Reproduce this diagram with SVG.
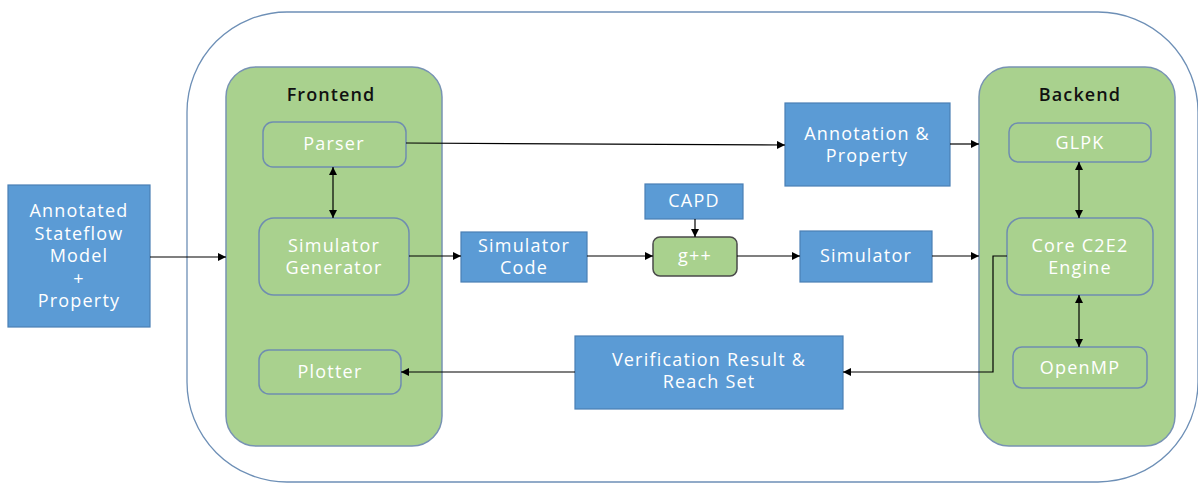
<svg xmlns="http://www.w3.org/2000/svg" width="1198" height="483" viewBox="0 0 1198 483">
  <style>
    .frame { fill: #ffffff; stroke: #6d8fb6; stroke-width: 1.3; }
    .panel { fill: #a9d18e; stroke: #7893b3; stroke-width: 1.5; }
    .inner { fill: #a9d18e; stroke: #6f8db0; stroke-width: 1.5; }
    .tool { fill: #a9d18e; stroke: #4a4a4a; stroke-width: 1.5; }
    .box { fill: #5b9bd5; stroke: #4a7fb5; stroke-width: 1.2; }
    .label { font-family: "Open Sans", "Liberation Sans", sans-serif; font-size: 18px; fill: #ffffff; text-anchor: middle; letter-spacing: 1.2px; }
    .title { font-family: "Open Sans", "Liberation Sans", sans-serif; font-size: 18px; font-weight: 600; fill: #111111; text-anchor: middle; letter-spacing: 1.1px; }
    .wire { fill: none; stroke: #000000; stroke-width: 1.2; }
  </style>
  <defs>
    <marker id="arrow" viewBox="0 0 10 10" refX="10" refY="5" markerWidth="8" markerHeight="8" markerUnits="userSpaceOnUse" orient="auto-start-reverse">
      <path d="M0,0 L10,5 L0,10 z" fill="#000000"/>
    </marker>
  </defs>

  <rect width="1198" height="483" fill="#ffffff"/>

  <!-- C2E2 tool boundary -->
  <rect id="tool-frame" class="frame" x="187" y="12" width="1011" height="470" rx="100" ry="100"/>

  <!-- Frontend panel -->
  <g id="frontend">
    <rect class="panel" x="226" y="67" width="216" height="379" rx="30" ry="30"/>
    <text class="title" x="331" y="101">Frontend</text>
  </g>
  <g id="parser">
    <rect class="inner" x="263" y="122" width="143" height="45" rx="10" ry="10"/>
    <text class="label" x="334" y="150">Parser</text>
  </g>
  <g id="simulator-generator">
    <rect class="inner" x="259" y="218" width="150" height="77" rx="15" ry="15"/>
    <text class="label" x="334" y="252">Simulator</text>
    <text class="label" x="334" y="274">Generator</text>
  </g>
  <g id="plotter">
    <rect class="inner" x="259" y="350" width="142" height="44" rx="10" ry="10"/>
    <text class="label" x="330" y="378">Plotter</text>
  </g>

  <!-- Backend panel -->
  <g id="backend">
    <rect class="panel" x="979" y="67" width="196" height="379" rx="30" ry="30"/>
    <text class="title" x="1080" y="101">Backend</text>
  </g>
  <g id="glpk">
    <rect class="inner" x="1009" y="123" width="142" height="39" rx="9" ry="9"/>
    <text class="label" x="1080" y="149">GLPK</text>
  </g>
  <g id="core-engine">
    <rect class="inner" x="1007" y="218" width="146" height="77" rx="15" ry="15"/>
    <text class="label" x="1080" y="252">Core C2E2</text>
    <text class="label" x="1080" y="274">Engine</text>
  </g>
  <g id="openmp">
    <rect class="inner" x="1013" y="347" width="134" height="41" rx="9" ry="9"/>
    <text class="label" x="1080" y="374">OpenMP</text>
  </g>

  <!-- Artifacts and external tools -->
  <g id="input-model">
    <rect class="box" x="8" y="185" width="142" height="142"/>
    <text class="label" x="79" y="217">Annotated</text>
    <text class="label" x="79" y="239.5">Stateflow</text>
    <text class="label" x="79" y="262">Model</text>
    <text class="label" x="79" y="284.5">+</text>
    <text class="label" x="79" y="307">Property</text>
  </g>
  <g id="annotation-property">
    <rect class="box" x="785" y="103" width="165" height="83"/>
    <text class="label" x="867" y="140">Annotation &amp;</text>
    <text class="label" x="867" y="162">Property</text>
  </g>
  <g id="simulator-code">
    <rect class="box" x="461" y="232" width="126" height="50"/>
    <text class="label" x="524" y="252">Simulator</text>
    <text class="label" x="524" y="274">Code</text>
  </g>
  <g id="capd">
    <rect class="box" x="645" y="184" width="98" height="35"/>
    <text class="label" x="694" y="207">CAPD</text>
  </g>
  <g id="gpp">
    <rect class="tool" x="653" y="237" width="84" height="39" rx="7" ry="7"/>
    <text class="label" x="695" y="262">g++</text>
  </g>
  <g id="simulator">
    <rect class="box" x="800" y="231" width="132" height="51"/>
    <text class="label" x="866" y="262">Simulator</text>
  </g>
  <g id="verification-result">
    <rect class="box" x="575" y="336" width="268" height="73"/>
    <text class="label" x="709" y="366">Verification Result &amp;</text>
    <text class="label" x="709" y="388">Reach Set</text>
  </g>

  <!-- Connectors -->
  <g id="connectors">
    <path class="wire" d="M150,257 H226" marker-end="url(#arrow)"/>
    <path class="wire" d="M333,167 V218" marker-start="url(#arrow)" marker-end="url(#arrow)"/>
    <path class="wire" d="M406,143 L785,145" marker-end="url(#arrow)"/>
    <path class="wire" d="M950,144 H979" marker-end="url(#arrow)"/>
    <path class="wire" d="M409,256 H461" marker-end="url(#arrow)"/>
    <path class="wire" d="M587,256 H653" marker-end="url(#arrow)"/>
    <path class="wire" d="M695,219 V237" marker-end="url(#arrow)"/>
    <path class="wire" d="M737,256 H800" marker-end="url(#arrow)"/>
    <path class="wire" d="M932,256 H979" marker-end="url(#arrow)"/>
    <path class="wire" d="M1079,162 V218" marker-start="url(#arrow)" marker-end="url(#arrow)"/>
    <path class="wire" d="M1079,295 V347" marker-start="url(#arrow)" marker-end="url(#arrow)"/>
    <path class="wire" d="M1007,256 H993 V372 H843" marker-end="url(#arrow)"/>
    <path class="wire" d="M575,372 H401" marker-end="url(#arrow)"/>
  </g>
</svg>
